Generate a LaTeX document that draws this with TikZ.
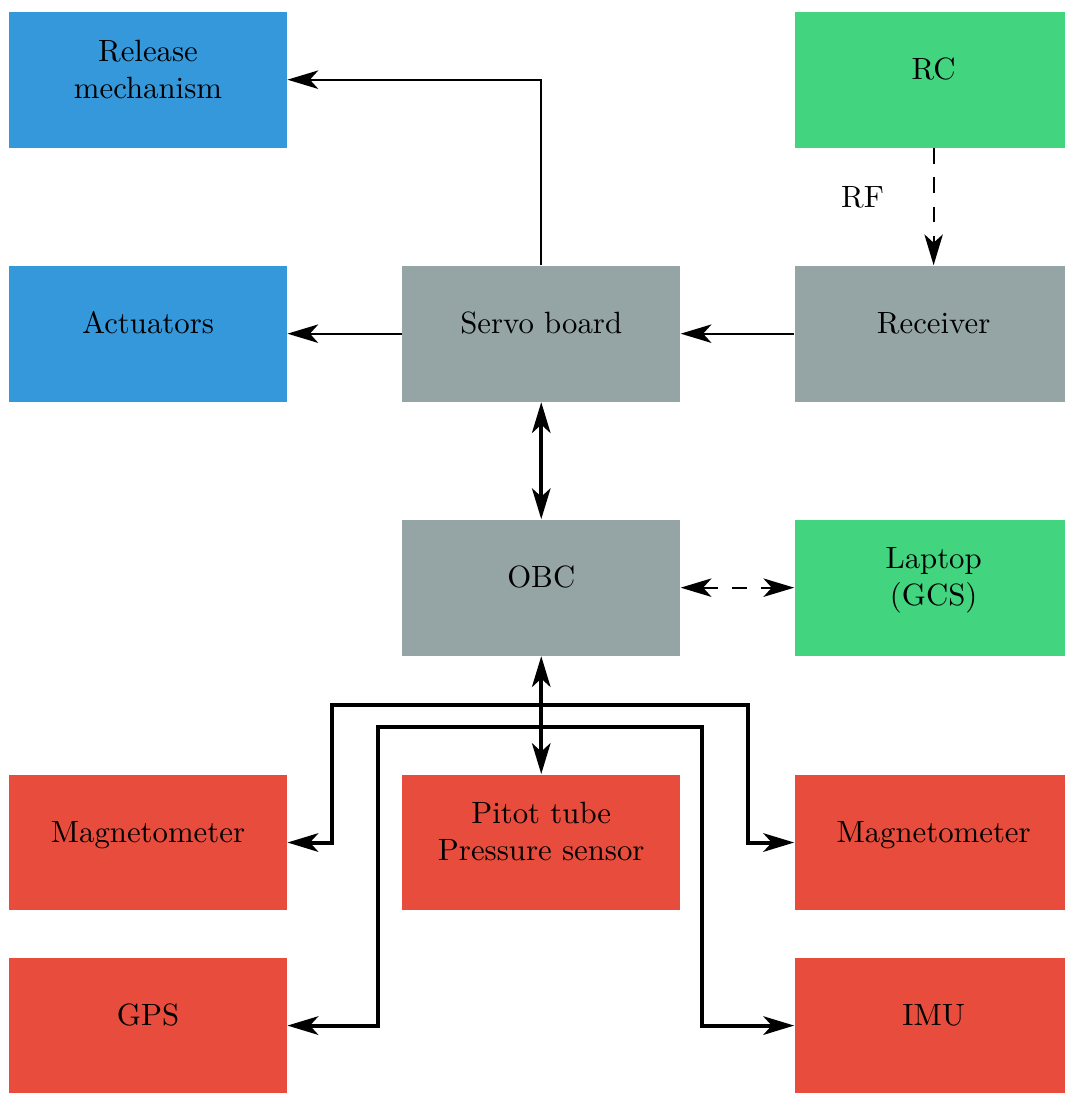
\documentclass[tikz,border=0pt]{standalone}
\usepackage{amsmath, amssymb}
\usepackage{tikz}
\usetikzlibrary{arrows.meta}

\definecolor{bluebox}{HTML}{3498DB}
\definecolor{greenbox}{HTML}{42D47E}
\definecolor{greybox}{HTML}{95A5A6}
\definecolor{redbox}{HTML}{E74C3C}

\begin{document}
\begin{tikzpicture}[
    box/.style={rectangle, minimum width=3.17cm, minimum height=1.55cm,
        inner sep=0pt, align=center, text depth=7pt},
    link/.style={line width=0.65pt},
    radio/.style={link, dash pattern=on 5pt off 4.5pt},
    bus/.style={line width=1.3pt},
    >={Stealth[length=10pt,width=6pt,inset=2.7pt]}
]
    \useasboundingbox (0,0) rectangle (12.15,-12.48);

    % top row
    \node[box, fill=bluebox] (release) at (1.69,-0.91) {Release\\mechanism};
    \node[box, fill=greenbox] (rc) at (10.66,-0.91) {RC};

    % second row
    \node[box, fill=bluebox] (actuators) at (1.69,-3.81) {Actuators};
    \node[box, fill=greybox] (servo) at (6.18,-3.81) {Servo board};
    \node[box, fill=greybox] (receiver) at (10.66,-3.81) {Receiver};

    % third row
    \node[box, fill=greybox] (obc) at (6.18,-6.71) {OBC};
    \node[box, fill=greenbox] (laptop) at (10.66,-6.71) {Laptop\\(GCS)};

    % sensors
    \node[box, fill=redbox] (magl) at (1.69,-9.62) {Magnetometer};
    \node[box, fill=redbox] (pitot) at (6.18,-9.62) {Pitot tube\\Pressure sensor};
    \node[box, fill=redbox] (magr) at (10.66,-9.62) {Magnetometer};
    \node[box, fill=redbox] (gps) at (1.69,-11.71) {GPS};
    \node[box, fill=redbox] (imu) at (10.66,-11.71) {IMU};

    % radio side
    \draw[radio, ->] (rc) -- (receiver) node[left=12.5pt, pos=0.42] (rf) {RF};
    \draw[link, ->] (receiver) -- (servo);
    \draw[link, ->] (servo) -- (actuators);
    \draw[link, ->] (servo.north) |- (release.east);
    \draw[bus, <->] (servo) -- (obc);
    \draw[radio, <->] (obc) -- (laptop);

    % sensor bus
    \draw[bus, <->] (obc) -- (pitot);
    \draw[bus, <->] (magl.east) -| (3.79,-8.05) -- (8.54,-8.05) |- (magr.west);
    \draw[bus, <->] (gps.east) -| (4.32,-8.30) -- (8.01,-8.30) |- (imu.west);
\end{tikzpicture}
\end{document}
